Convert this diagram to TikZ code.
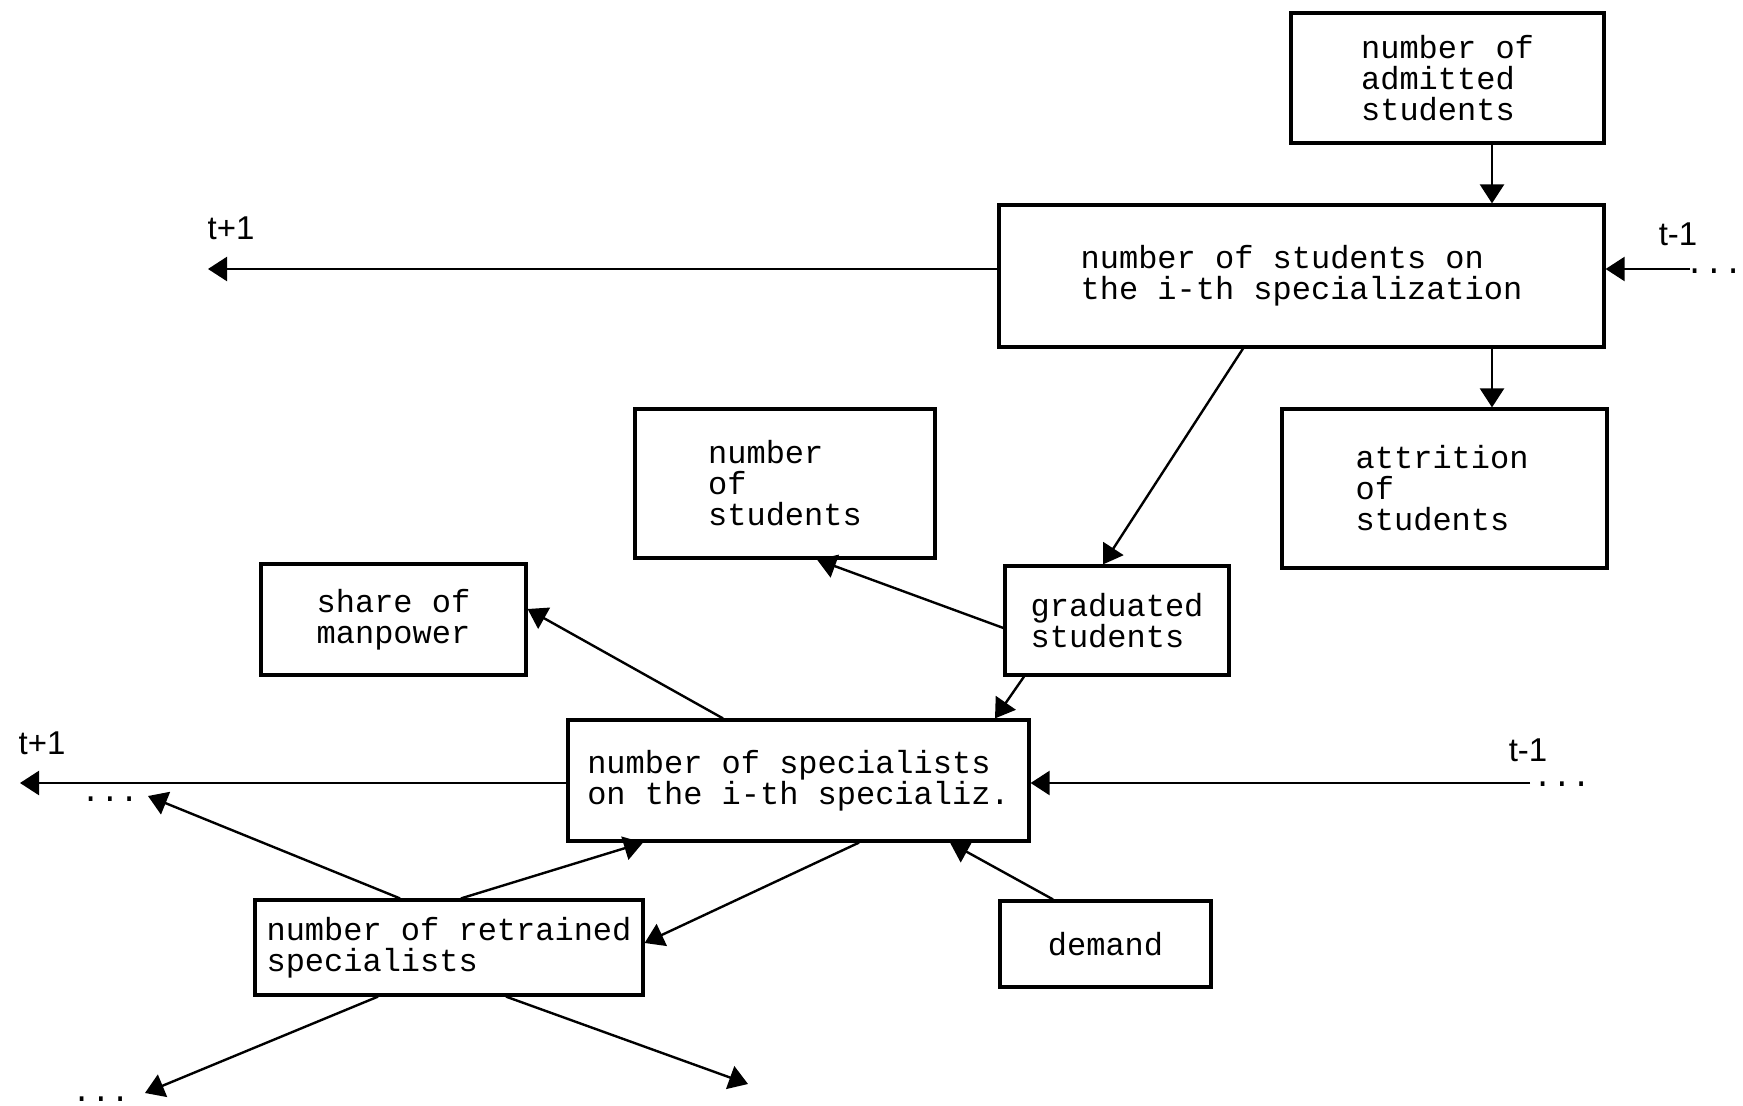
\documentclass[tikz,border=0pt]{standalone}
\usepackage{fontspec}
\setmonofont{Liberation Mono}
\setsansfont{Liberation Sans}
\usetikzlibrary{arrows.meta}

\begin{document}
\begin{tikzpicture}[
  x=0.5pt, y=-0.5pt,
  box/.style={
    draw,
    line width=1.6pt,
    inner sep=0pt,
    align=left,
    font=\ttfamily\fontsize{16}{15.5}\selectfont,
  },
  tlabel/.style={font=\sffamily\fontsize{16.5}{16.5}\selectfont, inner sep=0pt},
  dots/.style={font=\ttfamily\fontsize{16}{16}\selectfont, inner sep=0pt},
  link/.style={line width=1.2pt},
  >={Triangle[length=9.5pt,width=12pt]},
  ]
  \useasboundingbox (0,0) rectangle (1743,1106);

  \node[box, minimum width=156.5pt, minimum height=65pt] (n0) at (1447.5,78) {number of\\admitted\\students};
  \node[box, minimum width=302.5pt, minimum height=71pt] (n1) at (1301.5,276) {number of students on\\the i-th specialization};
  \node[box, minimum width=162.5pt, minimum height=79.5pt] (n2) at (1444.5,488.5) {attrition\\of\\students\hspace*{12pt}};
  \node[box, minimum width=150pt, minimum height=74.5pt] (n3) at (785,483.5) {number\\of\\students};
  \node[box, minimum width=112pt, minimum height=54.5pt] (n4) at (1117,620.5) {graduated\\students};
  \node[box, minimum width=132.5pt, minimum height=55.5pt] (n5) at (393.5,619.5) {share of\\manpower};
  \node[box, minimum width=230.5pt, minimum height=60.5pt] (n6) at (798.5,780.5) {number of specialists\\on the i-th specializ.};
  \node[box, minimum width=194pt, minimum height=47.5pt] (n7) at (449,947.5) {number of retrained\\specialists};
  \node[box, minimum width=105.5pt, minimum height=43pt] (n8) at (1105.5,944) {demand};

  \node[tlabel] (l0) at (231,228) {t+1};
  \node[tlabel] (l1) at (1678,234) {t-1};
  \node[tlabel] (l2) at (42,743) {t+1};
  \node[tlabel] (l3) at (1528,750) {t-1};
  \node[dots] (d0) at (1714,271) {...};
  \node[dots] (d1) at (110,799) {...};
  \node[dots] (d2) at (1562,784) {...};
  \node[dots] (d3) at (101,1099) {...};

  \coordinate (c0) at (208,269);
  \coordinate (c1) at (1690,269);
  \coordinate (c2) at (20,783);
  \coordinate (c3) at (1530,783);
  \coordinate (c4) at (148,796);
  \coordinate (c5) at (145,1093);
  \coordinate (c6) at (748,1084);

  \path[link,->]
  (n0.south -| 1492,0) edge (n1.north -| 1492,0)
  (n1.south -| 1492,0) edge (n2.north -| 1492,0)
  (n1.west |- c0) edge (c0)
  (c1) edge (n1.east |- c1)
  (n1.south -| 1243,0) edge (n4.north -| 1103,0)
  (n4.west |- 0,628) edge (n3.south -| 817,0)
  (n4.south -| 1024,0) edge (n6.north -| 995,0)
  (n6.north -| 723,0) edge (n5.east |- 0,609)
  (n6.west |- c2) edge (c2)
  (c3) edge (n6.east |- c3)
  (n7.north -| 400,0) edge (c4)
  (n7.north -| 461,0) edge (n6.south -| 643,0)
  (n6.south -| 859,0) edge (n7.east |- 0,943)
  (n8.north -| 1053,0) edge (n6.south -| 950,0)
  (n7.south -| 378,0) edge (c5)
  (n7.south -| 506,0) edge (c6);
\end{tikzpicture}
\end{document}
